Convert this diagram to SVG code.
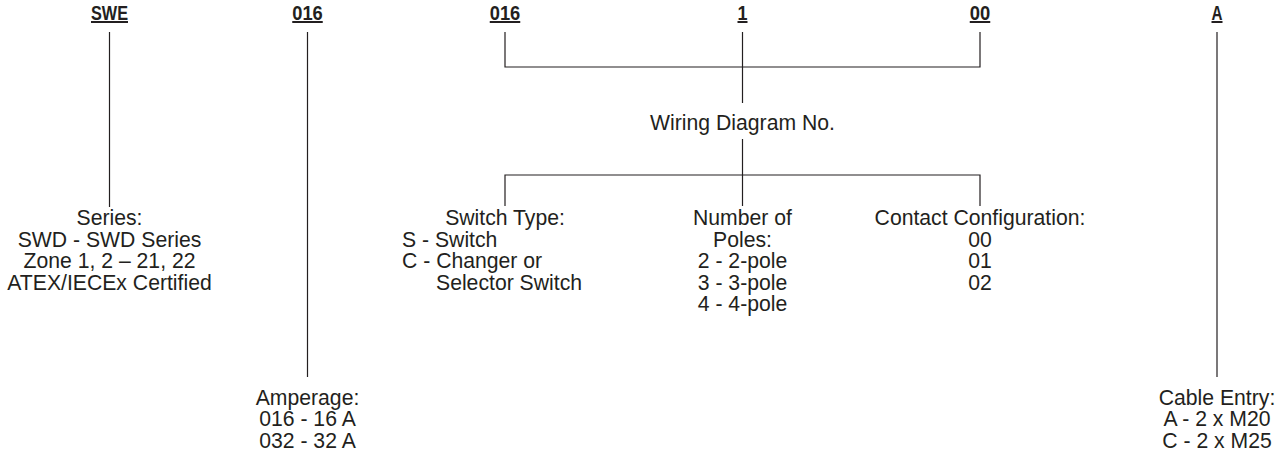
<svg xmlns="http://www.w3.org/2000/svg" width="1279" height="454" viewBox="0 0 1279 454">
<style>
.hd{font-family:"Liberation Sans",Arial,sans-serif;font-weight:bold;font-size:20px;fill:#231f20;text-anchor:middle;text-decoration:underline}
.t{font-family:"Liberation Sans",Arial,Helvetica,sans-serif;font-size:21.2px;fill:#231f20}
.c{text-anchor:middle}
.ln{stroke:#231f20;stroke-width:1.2;fill:none}
</style>
<rect width="1279" height="454" fill="#fff"/>
<g id="headers">
<text id="h-swe" class="hd" x="109.5" y="20" textLength="37" lengthAdjust="spacingAndGlyphs">SWE</text>
<text id="h-amp" class="hd" x="307.5" y="20" textLength="30.5" lengthAdjust="spacingAndGlyphs">016</text>
<text id="h-wd" class="hd" x="505" y="20" textLength="30.5" lengthAdjust="spacingAndGlyphs">016</text>
<text id="h-poles" class="hd" x="742.5" y="20" textLength="10" lengthAdjust="spacingAndGlyphs">1</text>
<text id="h-contact" class="hd" x="980" y="20" textLength="20.5" lengthAdjust="spacingAndGlyphs">00</text>
<text id="h-cable" class="hd" x="1217" y="20" textLength="11" lengthAdjust="spacingAndGlyphs">A</text>
</g>
<g id="connectors" class="ln">
<path d="M109.5 32V207"/>
<path d="M307.5 32V377"/>
<path d="M1217 32V377"/>
<path d="M505 32V67H980V32"/>
<path d="M742.5 32V103"/>
<path d="M742.5 139V175"/>
<path d="M505 206V175H980V206"/>
<path d="M742.5 175V206"/>
</g>
<g id="series">
<text class="t c" x="109.5" y="225">Series:</text>
<text class="t c" x="109.5" y="246.5">SWD - SWD Series</text>
<text class="t c" x="109.5" y="268">Zone 1, 2 – 21, 22</text>
<text class="t c" x="109.5" y="289.5">ATEX/IECEx Certified</text>
</g>
<g id="amperage">
<text class="t c" x="307.5" y="404.5">Amperage:</text>
<text class="t c" x="307.5" y="426">016 - 16 A</text>
<text class="t c" x="307.5" y="447.5">032 - 32 A</text>
</g>
<g id="wiring">
<text class="t c" x="742.5" y="130">Wiring Diagram No.</text>
</g>
<g id="switch-type">
<text class="t c" x="505" y="225">Switch Type:</text>
<text class="t" x="402" y="246.5">S - Switch</text>
<text class="t" x="402" y="268">C - Changer or</text>
<text class="t" x="436" y="289.5">Selector Switch</text>
</g>
<g id="poles">
<text class="t c" x="742.5" y="225">Number of</text>
<text class="t c" x="742.5" y="246.5">Poles:</text>
<text class="t c" x="742.5" y="268">2 - 2-pole</text>
<text class="t c" x="742.5" y="289.5">3 - 3-pole</text>
<text class="t c" x="742.5" y="311">4 - 4-pole</text>
</g>
<g id="contact">
<text class="t c" x="980" y="225">Contact Configuration:</text>
<text class="t c" x="980" y="246.5">00</text>
<text class="t c" x="980" y="268">01</text>
<text class="t c" x="980" y="289.5">02</text>
</g>
<g id="cable">
<text class="t c" x="1217" y="404.5">Cable Entry:</text>
<text class="t c" x="1217" y="426">A - 2 x M20</text>
<text class="t c" x="1217" y="447.5">C - 2 x M25</text>
</g>
</svg>
